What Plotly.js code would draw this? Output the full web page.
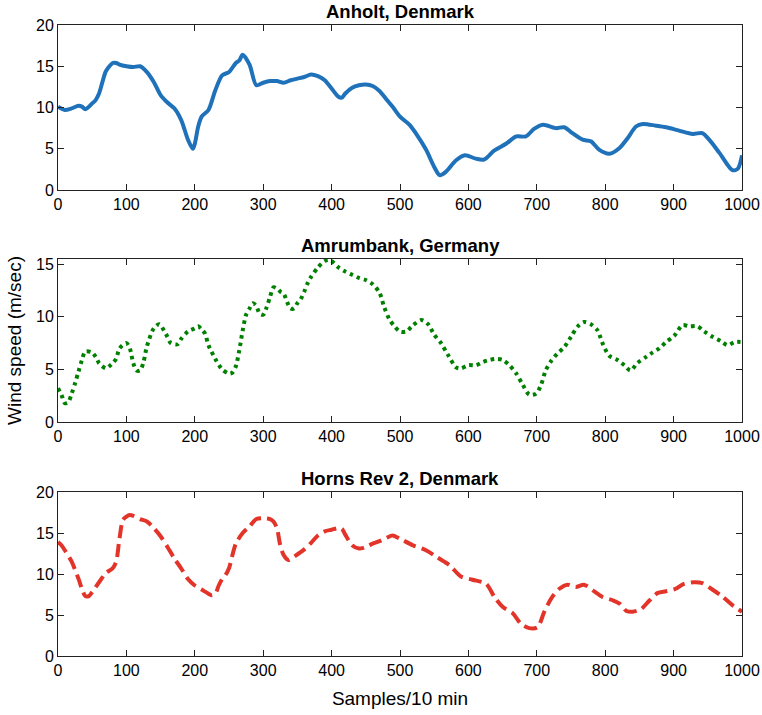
<!DOCTYPE html>
<html>
<head>
<meta charset="utf-8">
<script src="https://cdn.plot.ly/plotly-3.0.1.min.js"></script>
<style>html,body{margin:0;padding:0;background:#fff;}#chart{width:762px;height:715px;}</style>
</head>
<body>
<div id="chart"></div>
<script>
// Anholt, Denmark
const anholtX = [0,10,20,30,35,40,50,55,60,65,70,80,85,90,100,110,120,130,140,150,160,170,180,190,197,200,205,210,220,230,240,250,260,265,270,280,290,300,310,320,330,340,350,360,370,380,390,400,410,415,420,430,440,450,460,470,480,490,500,514,523,538,550,558,567,582,595,611,623,638,655,670,684,696,709,728,740,752,767,779,791,806,821,833,845,855,874,889,908,928,942,952,967,986,994,1000];
const anholtY = [10.1,9.7,9.9,10.2,10.1,9.8,10.5,10.9,11.7,13.1,14.4,15.4,15.4,15.2,15.0,14.9,15.0,14.3,13.1,11.5,10.6,9.9,8.5,6.1,5.0,5.6,7.7,8.9,9.7,12.1,13.9,14.3,15.4,15.7,16.4,15.2,12.7,13.0,13.2,13.2,13.0,13.3,13.5,13.7,14.0,13.8,13.3,12.3,11.3,11.2,11.7,12.4,12.7,12.8,12.6,12.0,11.0,10.0,8.9,7.9,6.9,4.9,2.8,1.8,2.2,3.6,4.2,3.8,3.7,4.8,5.6,6.5,6.5,7.4,7.9,7.5,7.6,6.9,6.1,5.9,4.9,4.4,5.1,6.3,7.7,8.0,7.8,7.6,7.2,6.8,6.9,6.1,4.5,2.4,2.6,4.2];

// Amrumbank, Germany
const amrumX = [0,5,10,15,20,25,30,35,40,50,55,60,70,75,80,85,90,100,105,110,115,120,125,130,140,148,155,160,165,175,180,190,200,205,210,215,220,230,240,250,255,260,265,270,275,280,285,290,295,300,305,310,315,320,325,330,335,340,345,350,355,360,365,370,380,390,395,400,410,420,430,440,450,460,470,477,485,492,500,509,519,531,541,550,560,570,582,589,600,611,621,631,640,650,660,670,679,689,699,706,713,721,730,740,750,760,769,779,789,796,806,818,828,837,847,860,869,879,889,901,913,923,935,945,957,969,979,989,1000];
const amrumY = [3.2,2.6,1.8,1.9,2.7,3.7,4.8,5.9,6.7,6.6,6.2,5.6,5.1,5.3,5.6,6.0,7.0,7.5,7.0,5.6,4.9,4.9,5.7,7.2,8.9,9.3,8.7,8.1,7.5,7.4,7.9,8.6,8.9,9.1,8.8,8.4,7.3,6.0,5.0,4.6,4.7,5.3,6.8,8.7,10.2,10.8,11.3,11.0,10.3,10.2,10.9,11.9,12.8,12.7,12.4,12.2,11.4,10.8,10.8,11.3,11.7,12.4,13.2,13.8,14.7,15.3,15.4,15.3,14.7,14.3,14.0,13.7,13.5,13.1,12.3,10.9,9.7,9.1,8.6,8.6,9.2,9.7,9.3,8.3,7.5,6.4,5.2,5.1,5.4,5.4,5.7,5.9,6.0,5.9,5.4,4.6,3.6,2.6,2.7,3.5,4.9,5.8,6.5,7.1,8.1,9.1,9.5,9.3,8.7,7.5,6.3,5.9,5.4,4.9,5.6,6.2,6.6,7.0,7.6,8.2,9.2,9.1,9.1,8.6,8.1,7.7,7.3,7.6,7.6];

// Horns Rev 2, Denmark
const hornsX = [0,5,10,20,30,35,40,45,50,60,70,80,85,90,95,100,105,110,120,130,140,150,160,170,180,190,200,210,220,225,230,235,240,245,250,255,260,270,280,290,300,310,315,320,325,330,337,345,360,370,380,390,400,410,415,420,430,440,450,460,470,480,489,500,519,538,555,572,589,606,626,638,650,665,677,689,701,711,721,733,745,757,769,782,796,811,821,831,840,852,865,877,889,903,915,930,942,955,972,986,1000];
const hornsY = [13.9,13.5,12.9,11.5,9.4,8.2,7.3,7.3,7.8,9.0,10.1,10.7,11.5,14.4,16.6,17.0,17.2,17.1,16.7,16.4,15.6,14.6,13.3,11.9,10.7,9.4,8.6,8.1,7.6,7.4,7.6,8.6,9.4,9.9,10.7,12.3,13.7,15.0,15.8,16.7,16.8,16.7,16.4,15.6,13.5,12.3,11.7,12.1,13.0,13.8,14.7,15.2,15.4,15.6,15.5,14.8,13.5,13.1,13.3,13.7,14.0,14.4,14.7,14.3,13.5,12.9,12.0,11.1,9.7,9.3,8.8,7.2,6.0,5.2,3.9,3.4,3.5,5.4,7.0,8.2,8.7,8.4,8.7,8.0,7.2,6.8,6.4,5.5,5.4,5.7,6.8,7.7,7.9,8.2,8.8,9.0,8.9,8.2,7.2,6.2,5.4];

const titles = ['Anholt, Denmark', 'Amrumbank, Germany', 'Horns Rev 2, Denmark'];
const xTicks = [0,100,200,300,400,500,600,700,800,900,1000];

const fam = 'Liberation Sans, Arial, Helvetica, sans-serif';
const font = {family: fam, size: 16, color: '#000'};
const axTitleFont = {family: fam, size: 19, color: '#000'};
const titleFont = {family: fam, size: 18.5, color: '#000'};

const traces = [
  {x: anholtX, y: anholtY, xaxis: 'x', yaxis: 'y', mode: 'lines',
   line: {color: '#1F72BA', width: 4, shape: 'spline', smoothing: 0.8}},
  {x: amrumX, y: amrumY, xaxis: 'x2', yaxis: 'y2', mode: 'lines',
   line: {color: '#008000', width: 4, shape: 'spline', smoothing: 0.8, dash: '3.5px,4px'}},
  {x: hornsX, y: hornsY, xaxis: 'x3', yaxis: 'y3', mode: 'lines',
   line: {color: '#E3342A', width: 4, shape: 'spline', smoothing: 0.8, dash: '13px,6px'}}
];

function xax(anchor, title) {
  const a = {anchor: anchor, range: [0, 1000], tickvals: xTicks, ticktext: xTicks.map(String),
    ticks: 'inside', ticklen: 6, tickwidth: 1, tickcolor: '#222', showline: true, linecolor: '#222', linewidth: 1,
    mirror: 'ticks', showgrid: false, zeroline: false, tickfont: font, fixedrange: true, automargin: false};
  if (title) a.title = {text: title, font: axTitleFont, standoff: 13};
  return a;
}
function yax(anchor, domain, range, title) {
  const a = {anchor: anchor, domain: domain, range: range, tickvals: [0,5,10,15,20],
    ticks: 'inside', ticklen: 6, tickwidth: 1, tickcolor: '#222', showline: true, linecolor: '#222', linewidth: 1,
    mirror: 'ticks', showgrid: false, zeroline: false, tickfont: font, fixedrange: true, automargin: false};
  if (title) a.title = {text: title, font: axTitleFont, standoff: 9};
  return a;
}

const d1 = [0.7385, 1.0], d2 = [0.3708, 0.6292], d3 = [0, 0.2599];

function titleAnn(text, y) {
  return {text: '<b>' + text + '</b>', xref: 'paper', yref: 'paper', x: 0.5, y: y, yshift: 1,
    xanchor: 'center', yanchor: 'bottom', showarrow: false, font: titleFont};
}

const layout = {
  width: 762, height: 715,
  margin: {l: 58, r: 20, t: 25, b: 59},
  paper_bgcolor: '#fff', plot_bgcolor: '#fff',
  showlegend: false,
  font: font,
  xaxis: xax('y'),
  yaxis: yax('x', d1, [0, 20]),
  xaxis2: xax('y2'),
  yaxis2: yax('x2', d2, [0, 15.5], 'Wind speed (m/sec)'),
  xaxis3: xax('y3', 'Samples/10 min'),
  yaxis3: yax('x3', d3, [0, 20]),
  annotations: [titleAnn(titles[0], d1[1]), titleAnn(titles[1], d2[1]), titleAnn(titles[2], d3[1])]
};

Plotly.newPlot('chart', traces, layout, {displayModeBar: false, staticPlot: true});
</script>
</body>
</html>
